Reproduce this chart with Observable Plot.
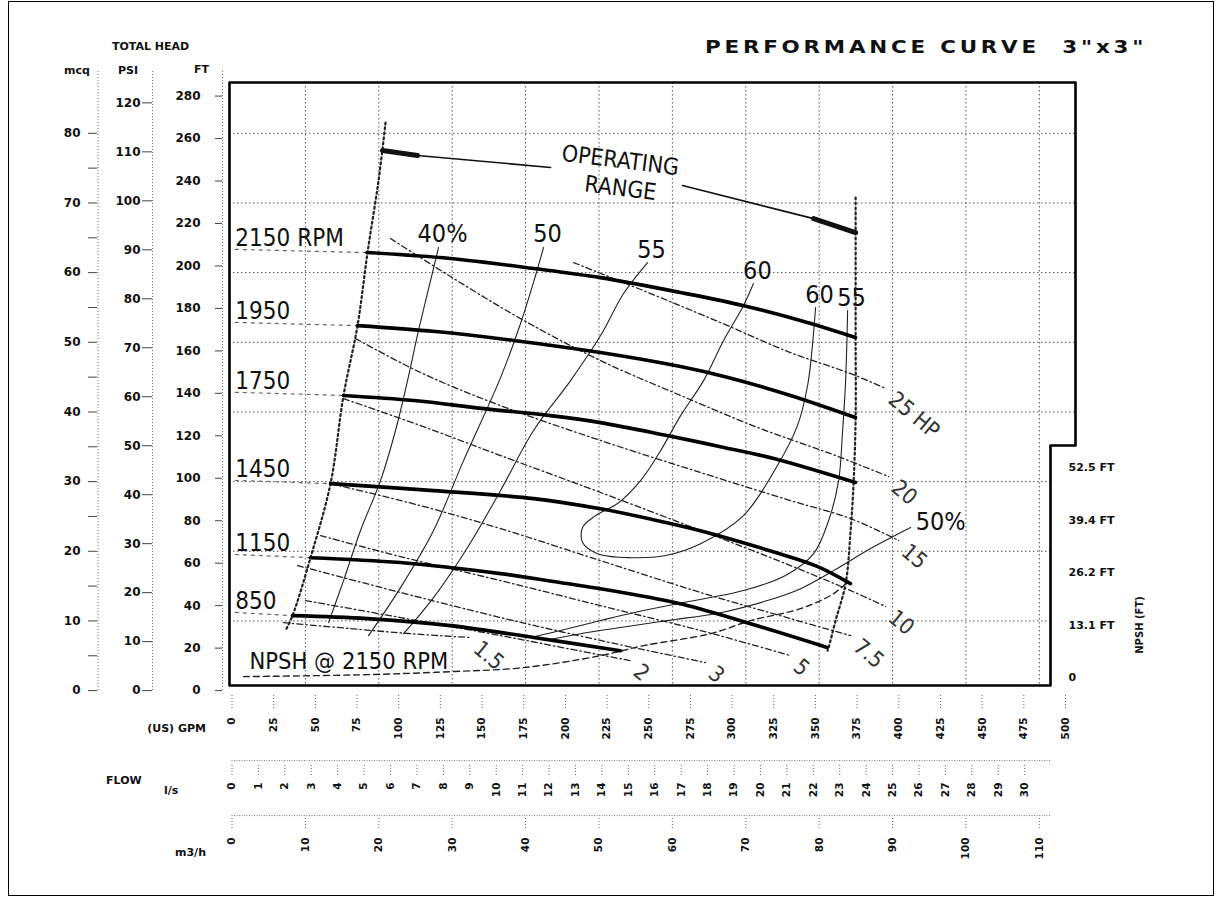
<!DOCTYPE html>
<html>
<head>
<meta charset="utf-8">
<script src="https://cdn.jsdelivr.net/npm/d3@7"></script>
<script src="https://cdn.jsdelivr.net/npm/@observablehq/plot@0.6"></script>
<style>
  html, body { margin: 0; padding: 0; background: #fff; }
  #wrap { position: relative; width: 1222px; height: 903px; overflow: hidden; background: #fff; }
  #chart { position: absolute; left: 0; top: 0; }
  .lbl { position: absolute; font-family: "DejaVu Sans", sans-serif; font-weight: bold; color: #111; white-space: nowrap; line-height: 1; }
</style>
</head>
<body>
<div id="wrap">
  <div id="chart"></div>
  <div style="position:absolute;left:8px;top:1px;width:1204px;height:893px;border:1.5px solid #000;"></div>
  <div class="lbl" style="left:705px;top:39px;font-size:17px;letter-spacing:3px;transform:scaleX(1.26);transform-origin:left top;">PERFORMANCE CURVE&nbsp;&nbsp;3&quot;x3&quot;</div>
  <div class="lbl" style="left:112px;top:41px;font-size:11px;">TOTAL HEAD</div>
  <div class="lbl" style="left:64px;top:65px;font-size:11px;">mcq</div>
  <div class="lbl" style="left:118px;top:65px;font-size:11px;">PSI</div>
  <div class="lbl" style="left:194px;top:64px;font-size:11px;">FT</div>
  <div class="lbl" style="right:1016px;top:723px;font-size:11px;">(US) GPM</div>
  <div class="lbl" style="left:106px;top:775px;font-size:11px;">FLOW</div>
  <div class="lbl" style="left:164px;top:785px;font-size:11px;">l/s</div>
  <div class="lbl" style="left:175px;top:847px;font-size:11px;">m3/h</div>
  <div class="lbl" style="left:1140px;top:625px;font-size:10px;transform:translate(-50%,-50%) rotate(-90deg);">NPSH (FT)</div>
</div>
<script>
// ---------- unit conversions ----------
const GPM_PER_M3H = 4.4029, GPM_PER_LS = 15.850, FT_PER_M = 3.2808, FT_PER_PSI = 2.3067;
const NPSH_ZERO_FT = 6.1, NPSH_SCALE = 1.884;   // right-hand NPSH scale calibrated against head (ft)

// ---------- axis ticks ----------
const ftTicks   = [0, 20, 40, 60, 80, 100, 120, 140, 160, 180, 200, 220, 240, 260, 280];
const psiTicks  = [0, 10, 20, 30, 40, 50, 60, 70, 80, 90, 100, 110, 120];
const mcqTicks  = [0, 10, 20, 30, 40, 50, 60, 70, 80];
const mcqMinor  = [5, 15, 25, 35, 45, 55, 65, 75];
const gpmTicks  = [0, 25, 50, 75, 100, 125, 150, 175, 200, 225, 250, 275, 300, 325, 350, 375, 400, 425, 450, 475, 500];
const lsTicks   = [0, 1, 2, 3, 4, 5, 6, 7, 8, 9, 10, 11, 12, 13, 14, 15, 16, 17, 18, 19, 20, 21, 22, 23, 24, 25, 26, 27, 28, 29, 30];
const m3hTicks  = [0, 10, 20, 30, 40, 50, 60, 70, 80, 90, 100, 110];
const npshTicks = [0, 13.1, 26.2, 39.4, 52.5];
const npshLabels = ["0", "13.1 FT", "26.2 FT", "39.4 FT", "52.5 FT"];
const gridM3h   = [10, 20, 30, 40, 50, 60, 70, 80, 90, 100, 110];
const gridM     = [10, 20, 30, 40, 50, 60, 70, 80];

// ---------- head-capacity curves [gpm, ft] ----------
const rpmNames = ["2150 RPM", "1950", "1750", "1450", "1150", "850"];
const rpm2150 = [[81,206.3],[131,203.5],[181,198.8],[221,194.5],[269,187.5],[307,181.3],[341,174.3],[374,166.3]];
const rpm1950 = [[75.3,171.9],[122,169.1],[169,164.9],[221,159.2],[269,152.6],[297,147.6],[335,139.0],[374,128.6]];
const rpm1750 = [[66.9,139.0],[109,136.6],[151,132.8],[191,129.5],[221,126.2],[261,120.1],[293,114.9],[325,109.3],[374,98.0]];
const rpm1450 = [[59.1,97.5],[121,94.2],[181,90.4],[221,85.6],[251,80.8],[281,75.3],[327,64.8],[351,58.5],[371,50.4]];
const rpm1150 = [[47.1,62.6],[101,60.3],[161,55.1],[201,50.4],[221,48.0],[251,43.8],[271,40.5],[311,31.5],[357,20.3]];
const rpm850  = [[36.3,35.3],[81.3,33.9],[131,30.6],[181,25.0],[233,18.8]];

// ---------- efficiency lines [gpm, ft] ----------
const eff40  = [[123.9,208.7],[119.1,193.1],[111.9,169.6],[105.3,146.0],[98.1,122.5],[89.1,98.9],[77.1,75.4],[66.9,51.8],[57.9,32.0]];
const eff50  = [[186.9,208.7],[182.1,195.5],[173.1,172.9],[161.1,147.4],[138.9,108.3],[120.9,75.4],[101.1,48.5],[81.9,25.9]];
const eff55  = [[249.3,201.6],[234.9,187.0],[221.1,167.2],[203.1,146.0],[180.9,122.5],[161.1,94.2],[141.3,67.4],[120.9,43.8],[102.9,26.8]];
const eff60  = [[312.8,191.7],[306.8,181.3],[294.9,164.9],[282.9,146.0],[269.1,129.5],[257.1,113.0],[245.1,98.9],[231.3,88.1],[218.1,82.4],[210.3,76.8],[210.3,69.7],[219.3,64.5],[239.1,62.6],[260.1,63.6],[281.1,69.2],[306.8,82.4],[327.2,106.0],[339.2,124.8],[345.3,143.7],[348.3,163.4],[350.1,180.4]];
const eff55r = [[369.3,179.0],[368.1,146.0],[366.3,122.5],[363.9,98.9],[357.9,80.1],[348.9,64.5],[332.0,54.2],[306.8,47.1],[270.9,41.5],[240.9,36.7],[221.1,33.0],[197.1,28.3],[179.1,25.0]];
const eff50r = [[407.1,76.8],[383.1,66.9],[360.9,56.5],[341.1,48.0],[321.2,42.4],[293.1,36.7],[261.3,33.0],[233.1,29.7],[209.1,26.8],[188.1,23.6]];

// ---------- horsepower lines [gpm, ft] ----------
const hpNames = ["25 HP", "20", "15", "10", "7.5", "5", "3", "2", "1.5"];
const hp25  = [[204.9,201.6],[251.1,187.0],[293.1,173.3],[335.0,159.2],[371.1,149.3],[392.1,142.3]];
const hp20  = [[95.1,212.9],[131.1,195.0],[173.1,175.2],[221.1,155.4],[269.1,139.0],[317.0,123.4],[359.1,111.6],[393.9,100.8]];
const hp15  = [[74.1,165.8],[113.1,149.8],[161.1,134.2],[221.1,117.8],[281.1,102.7],[335.0,89.5],[371.1,81.0],[399.9,70.7]];
const hp10  = [[66.9,137.5],[113.1,124.8],[161.1,110.7],[221.1,93.3],[281.1,75.4],[335.0,58.9],[371.1,47.1],[392.1,39.6]];
const hp7_5 = [[59.1,97.5],[113.1,87.1],[161.1,76.3],[221.1,61.2],[281.1,46.2],[335.0,33.9],[371.1,25.9]];
const hp5   = [[53.1,73.0],[101.1,63.1],[161.1,51.8],[221.1,40.0],[281.1,28.3],[335.0,16.5]];
const hp3   = [[39.3,58.9],[101.1,46.2],[161.1,34.4],[221.1,23.6],[284.0,13.2]];
const hp2   = [[44.1,42.4],[101.1,34.4],[161.1,25.9],[201.3,19.8],[239.1,14.1]];
const hp1_5 = [[30.9,32.0],[71.1,29.2],[107.1,26.8],[143.1,25.0]];

// ---------- NPSH @ 2150 RPM [gpm, NPSH ft] ----------
const npsh2150 = [[6.9,0.25],[81.3,0.75],[131.1,1.5],[174.9,2.5],[221.1,5.5],[246.9,8],[287.1,11],[311.0,14.25],[341.1,17.25],[360.9,21],[368.1,23.5]];

// ---------- operating range [gpm, ft] ----------
const opLeft  = [[92.1,267.5],[87.9,240.2],[81.3,206.3],[75.3,171.9],[66.9,139.0],[59.1,97.5],[47.1,62.6],[36.3,35.3],[32.1,28.3]];
const opRight = [[374.1,232.2],[374.1,166.3],[374.1,128.6],[372.9,98.0],[371.1,75.4],[368.1,50.4],[362.1,33.0],[357.9,20.3],[357.3,18.8]];
const opBarThick = [[[90.3,254.4],[111.3,252.0]], [[348.9,222.3],[374.1,215.7]]];
const opBarThin  = [[[111.3,252.0],[191.1,246.4]], [[270.3,237.9],[348.9,222.3]]];

// ---------- chart frame (data units) ----------
const X_DOMAIN = [-1.5, 506], Y_DOMAIN = [2.4, 286.4];
const NOTCH_GPM = 491, NOTCH_FT = 115.4;
const frameOutline = [[X_DOMAIN[0],Y_DOMAIN[1]],[X_DOMAIN[1],Y_DOMAIN[1]],[X_DOMAIN[1],NOTCH_FT],[NOTCH_GPM,NOTCH_FT],[NOTCH_GPM,Y_DOMAIN[0]],[X_DOMAIN[0],Y_DOMAIN[0]],[X_DOMAIN[0],Y_DOMAIN[1]]];

// ---------- build tables ----------
const tbl = (name, pts) => pts.map(([gpm, ft]) => ({name, gpm, ft}));
const rpmSets = [rpm2150, rpm1950, rpm1750, rpm1450, rpm1150, rpm850];
const rpmTable = rpmSets.flatMap((p, i) => tbl(rpmNames[i], p));
const LEAD_GPM = 2;
const rpmLead = rpmSets.flatMap((p, i) => [{name: rpmNames[i], gpm: LEAD_GPM, ft: p[0][1] + 1.5}, {name: rpmNames[i], gpm: p[0][0], ft: p[0][1]}]);
const rpmLabels = rpmSets.map((p, i) => ({text: rpmNames[i], gpm: LEAD_GPM, ft: p[0][1] + 3}));

const effSets = [["40%", eff40], ["50", eff50], ["55", eff55], ["60", eff60], ["55r", eff55r], ["50%", eff50r]];
const effTable = effSets.flatMap(([n, p]) => tbl(n, p));
const effTopLabels = [
  {text: "40%", p: eff40[0]}, {text: "50", p: eff50[0]}, {text: "55", p: eff55[0]},
  {text: "60", p: eff60[0]}, {text: "60", p: eff60[eff60.length - 1]}, {text: "55", p: eff55r[0]}
].map(d => ({text: d.text, gpm: d.p[0], ft: d.p[1]}));
const eff50Label = [{text: "50%", gpm: eff50r[0][0], ft: eff50r[0][1]}];

const hpSets = [hp25, hp20, hp15, hp10, hp7_5, hp5, hp3, hp2, hp1_5];
const hpTable = hpSets.flatMap((p, i) => tbl(hpNames[i], p));
const hpLabels = hpSets.map((p, i) => ({text: hpNames[i], gpm: p[p.length - 1][0], ft: p[p.length - 1][1]}));

const npshTable = npsh2150.map(([gpm, n]) => ({gpm, ft: NPSH_ZERO_FT + n * NPSH_SCALE}));
const opTable = [...tbl("L", opLeft), ...tbl("R", opRight)];
const thickTable = opBarThick.flatMap((s, i) => tbl("t" + i, s));
const thinTable = opBarThin.flatMap((s, i) => tbl("n" + i, s));
const frameTable = tbl("frame", frameOutline);

const NARROW = '"Liberation Sans Narrow", "DejaVu Sans Condensed", "Liberation Sans", sans-serif';
const BOLD = '"DejaVu Sans", sans-serif';
const INK = "#111";

const axisStyle = {label: null, fontSize: 12, fontWeight: "bold", fontFamily: BOLD, fill: INK, stroke: "#444", strokeWidth: 1};
const botStyle = {label: null, fontSize: 10.5, fontWeight: "bold", fontFamily: BOLD, fill: INK, stroke: "#666", strokeDasharray: "1 2", tickRotate: -90};

const chart = Plot.plot({
  width: 1222, height: 903,
  marginLeft: 229, marginRight: 147, marginTop: 82, marginBottom: 218,
  x: {domain: X_DOMAIN, axis: null, label: null},
  y: {domain: Y_DOMAIN, axis: null, label: null},
  style: {background: "transparent", overflow: "visible"},
  marks: [
    // grid
    Plot.ruleX(gridM3h, {x: d => d * GPM_PER_M3H, stroke: "#555", strokeWidth: 1, strokeDasharray: "1.5 2.5"}),
    Plot.ruleY(gridM, {y: d => d * FT_PER_M, x1: X_DOMAIN[0], x2: d => d * FT_PER_M < NOTCH_FT ? NOTCH_GPM : X_DOMAIN[1], stroke: "#555", strokeWidth: 1, strokeDasharray: "1.5 2.5"}),
    // left dotted axis lines
    Plot.ruleX([0], {dx: -134, y1: 0, y2: 292, stroke: "#666", strokeDasharray: "1 2"}),
    Plot.ruleX([0], {dx: -79.5, y1: 0, y2: 292, stroke: "#666", strokeDasharray: "1 2"}),
    Plot.ruleX([0], {dx: -9.5, y1: 0, y2: 292, stroke: "#666", strokeDasharray: "1 2"}),
    // bottom dotted guide lines
    Plot.ruleY([0], {dy: 70, x1: 0, x2: 492, stroke: "#777", strokeDasharray: "1 1.5"}),
    Plot.ruleY([0], {dy: 125, x1: 0, x2: 492, stroke: "#777", strokeDasharray: "1 1.5"}),
    // frame
    Plot.line(frameTable, {x: "gpm", y: "ft", stroke: "#000", strokeWidth: 2.6}),
    // operating range lines
    Plot.line(opTable, {x: "gpm", y: "ft", z: "name", curve: "catmull-rom", stroke: "#222", strokeWidth: 2.2, strokeDasharray: "2 3"}),
    Plot.line(thinTable, {x: "gpm", y: "ft", z: "name", stroke: "#111", strokeWidth: 1.6}),
    Plot.line(thickTable, {x: "gpm", y: "ft", z: "name", stroke: "#111", strokeWidth: 5}),
    // horsepower lines
    Plot.line(hpTable, {x: "gpm", y: "ft", z: "name", curve: "catmull-rom", stroke: "#222", strokeWidth: 1.3, strokeDasharray: "6 3 1.5 3"}),
    // NPSH curve
    Plot.line(npshTable, {x: "gpm", y: "ft", curve: "catmull-rom", stroke: "#222", strokeWidth: 1.4, strokeDasharray: "6 4"}),
    // efficiency lines
    Plot.line(effTable, {x: "gpm", y: "ft", z: "name", curve: "catmull-rom", stroke: "#222", strokeWidth: 1.1}),
    // RPM lead-in dashes and curves
    Plot.line(rpmLead, {x: "gpm", y: "ft", z: "name", stroke: "#666", strokeWidth: 1.2, strokeDasharray: "3 5"}),
    Plot.line(rpmTable, {x: "gpm", y: "ft", z: "name", curve: "catmull-rom", stroke: "#000", strokeWidth: 3.6}),
    // labels
    Plot.text(rpmLabels, {x: "gpm", y: "ft", text: "text", textAnchor: "start", lineAnchor: "bottom", fontSize: 24, fontFamily: NARROW, fill: INK}),
    Plot.text(effTopLabels, {x: "gpm", y: "ft", text: "text", textAnchor: "middle", lineAnchor: "bottom", dx: 4, dy: -5, fontSize: 25, fontFamily: NARROW, fill: INK}),
    Plot.text(eff50Label, {x: "gpm", y: "ft", text: "text", textAnchor: "start", lineAnchor: "bottom", dx: 5, dy: 2, fontSize: 25, fontFamily: NARROW, fill: INK}),
    Plot.text(hpLabels, {x: "gpm", y: "ft", text: "text", textAnchor: "start", lineAnchor: "middle", rotate: 40, dx: 6, dy: 8, fontSize: 22, fontFamily: NARROW, fill: "#333"}),
    Plot.text([{text: "NPSH @ 2150 RPM", gpm: npsh2150[0][0], ft: NPSH_ZERO_FT + npsh2150[0][1] * NPSH_SCALE}], {x: "gpm", y: "ft", text: "text", textAnchor: "start", lineAnchor: "bottom", dx: 6, dy: -8, fontSize: 23.5, fontFamily: NARROW, fill: INK}),
    Plot.text([{text: "OPERATING", gpm: 233, ft: 249.6}, {text: "RANGE", gpm: 233, ft: 236.5}], {x: "gpm", y: "ft", text: "text", rotate: 7, fontSize: 23, fontFamily: NARROW, fill: INK}),
    // left axes: FT, PSI, mcq
    Plot.axisY({anchor: "left", ticks: ftTicks, tickFormat: d => d, tickSize: 7, tickPadding: 15, dx: -7, ...axisStyle}),
    Plot.axisY({anchor: "left", ticks: psiTicks.map(p => p * FT_PER_PSI), tickFormat: v => Math.round(v / FT_PER_PSI), tickSize: 10, tickPadding: 2, dx: -77, ...axisStyle}),
    Plot.axisY({anchor: "left", ticks: mcqTicks.map(m => m * FT_PER_M), tickFormat: v => Math.round(v / FT_PER_M), tickSize: 9, tickPadding: 8, dx: -132, ...axisStyle}),
    Plot.axisY({anchor: "left", ticks: mcqMinor.map(m => m * FT_PER_M), tickFormat: () => "", tickSize: 9, dx: -132, ...axisStyle}),
    // right NPSH axis labels
    Plot.text(npshTicks, {y: v => NPSH_ZERO_FT + v * NPSH_SCALE, text: (v, i) => npshLabels[i], frameAnchor: "right", textAnchor: "start", dx: -7, fontSize: 11, fontWeight: "bold", fontFamily: BOLD, fill: INK}),
    // bottom axes: GPM, l/s, m3/h
    Plot.axisX({anchor: "bottom", ticks: gpmTicks, tickFormat: d => d, tickSize: 15, tickPadding: 7, dy: 10, ...botStyle}),
    Plot.axisX({anchor: "bottom", ticks: lsTicks.map(v => v * GPM_PER_LS), tickFormat: v => Math.round(v / GPM_PER_LS), tickSize: 12, tickPadding: 5, dy: 80, ...botStyle}),
    Plot.axisX({anchor: "bottom", ticks: m3hTicks.map(v => v * GPM_PER_M3H), tickFormat: v => Math.round(v / GPM_PER_M3H), tickSize: 12, tickPadding: 7, dy: 133, ...botStyle})
  ]
});
document.getElementById("chart").appendChild(chart);
</script>
</body>
</html>
